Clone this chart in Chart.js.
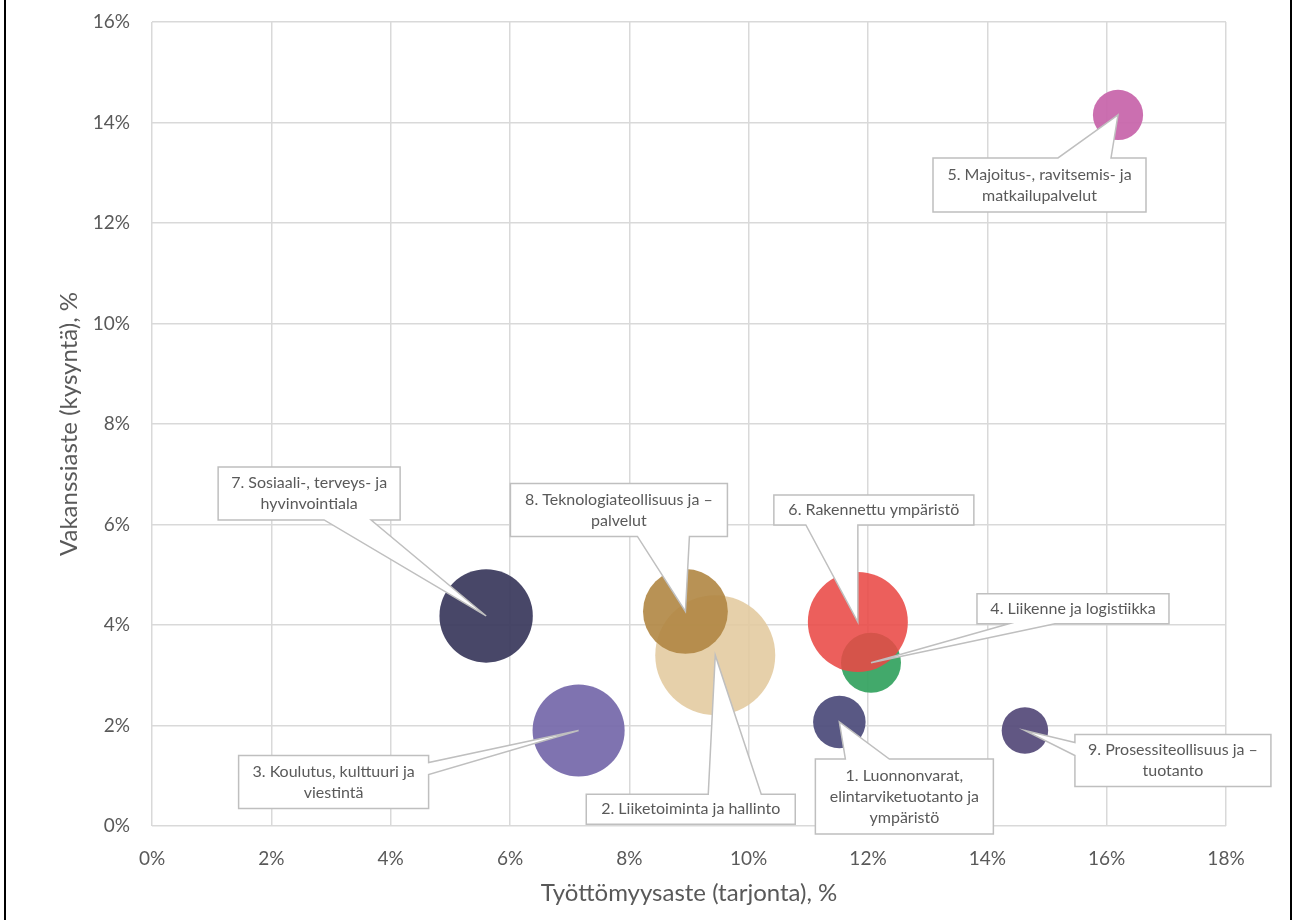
<!DOCTYPE html>
<html>
<head>
<meta charset="utf-8">
<script src="https://cdn.jsdelivr.net/npm/chart.js@4.4.1/dist/chart.umd.min.js"></script>
<style>
  html, body { margin: 0; padding: 0; background: #fff; }
  #wrap { position: relative; width: 1293px; height: 920px; }
  #frame { position: absolute; left: 4px; top: 0; width: 1284px; height: 920px;
           border-left: 2px solid #000; border-right: 2px solid #000; pointer-events: none; }
</style>
</head>
<body>
<div id="wrap">
  <canvas id="bubble" width="1293" height="920"></canvas>
  <div id="frame"></div>
</div>
<script>
// Toimialat, työttömyysaste (x), vakanssiaste (y), kuplan koko
const labels = [
  ['1. Luonnonvarat,', 'elintarviketuotanto ja', 'ympäristö'],
  ['2. Liiketoiminta ja hallinto'],
  ['3. Koulutus, kulttuuri ja', 'viestintä'],
  ['4. Liikenne ja logistiikka'],
  ['5. Majoitus-, ravitsemis- ja', 'matkailupalvelut'],
  ['6. Rakennettu ympäristö'],
  ['7. Sosiaali-, terveys- ja', 'hyvinvointiala'],
  ['8. Teknologiateollisuus ja –', 'palvelut'],
  ['9. Prosessiteollisuus ja –', 'tuotanto']
];
const unemployment = [11.52, 9.44, 7.15, 12.05, 16.19, 11.83, 5.60, 8.94, 14.63];
const vacancy = [2.07, 3.40, 1.90, 3.25, 14.15, 4.06, 4.18, 4.27, 1.90];
const bubbleSize = [6.9, 36, 21.2, 9, 6.3, 25, 21.8, 18, 5.4];
const xTicks = [0, 2, 4, 6, 8, 10, 12, 14, 16, 18];
const yTicks = [0, 2, 4, 6, 8, 10, 12, 14, 16];

const colors = [
  'rgba(80,79,125,0.95)', 'rgba(226,202,158,0.88)', 'rgba(120,108,172,0.95)',
  'rgba(52,163,96,0.93)', 'rgba(199,100,170,0.93)', 'rgba(233,73,69,0.88)',
  'rgba(62,61,96,0.95)', 'rgba(176,134,66,0.9)', 'rgba(88,78,124,0.95)'
];

// callout box placement relative to bubble centre (px): box offset, size, wedge side and base
const callouts = [
  { dx: -24,  dy: 37,   w: 178, h: 75, side: 'top',    b0: 30,  b1: 74 },
  { dx: -129, dy: 139,  w: 209, h: 30, side: 'top',    b0: 122, b1: 175 },
  { dx: -340, dy: 25,   w: 190, h: 53, side: 'right',  b0: 7,   b1: 19 },
  { dx: 106,  dy: -69,  w: 192, h: 30, side: 'bottom', b0: 32,  b1: 78 },
  { dx: -185, dy: 43,   w: 213, h: 54, side: 'top',    b0: 125, b1: 178 },
  { dx: -84,  dy: -127, w: 200, h: 30, side: 'bottom', b0: 32,  b1: 84 },
  { dx: -268, dy: -149, w: 182, h: 53, side: 'bottom', b0: 106, b1: 153 },
  { dx: -175, dy: -128, w: 217, h: 53, side: 'bottom', b0: 127, b1: 179 },
  { dx: 50,   dy: 4,    w: 196, h: 52, side: 'left',   b0: 8,   b1: 21 }
];

const FONT = 'Lato, "Open Sans", sans-serif';
const TXT = '#595959';

const calloutPlugin = {
  id: 'callouts',
  afterDatasetsDraw(chart) {
    const ctx = chart.ctx;
    const xs = chart.scales.x, ys = chart.scales.y;
    ctx.save();
    callouts.forEach((c, i) => {
      const tx = xs.getPixelForValue(unemployment[i]);
      const ty = ys.getPixelForValue(vacancy[i]);
      const L = tx + c.dx, T = ty + c.dy, R = L + c.w, B = T + c.h;
      ctx.beginPath();
      ctx.moveTo(L, T);
      if (c.side === 'top') {
        ctx.lineTo(L + c.b0, T); ctx.lineTo(tx, ty); ctx.lineTo(L + c.b1, T);
      }
      ctx.lineTo(R, T);
      if (c.side === 'right') {
        ctx.lineTo(R, T + c.b0); ctx.lineTo(tx, ty); ctx.lineTo(R, T + c.b1);
      }
      ctx.lineTo(R, B);
      if (c.side === 'bottom') {
        ctx.lineTo(L + c.b1, B); ctx.lineTo(tx, ty); ctx.lineTo(L + c.b0, B);
      }
      ctx.lineTo(L, B);
      if (c.side === 'left') {
        ctx.lineTo(L, T + c.b1); ctx.lineTo(tx, ty); ctx.lineTo(L, T + c.b0);
      }
      ctx.closePath();
      ctx.fillStyle = '#fff';
      ctx.fill();
      ctx.lineWidth = 1.5;
      ctx.strokeStyle = '#bfbfbf';
      ctx.stroke();

      const lines = labels[i];
      const lh = 21;
      ctx.fillStyle = TXT;
      ctx.font = '16px ' + FONT;
      ctx.textAlign = 'center';
      ctx.textBaseline = 'middle';
      const cy = T + c.h / 2 - (lines.length - 1) * lh / 2;
      lines.forEach((s, k) => ctx.fillText(s, L + c.w / 2, cy + k * lh));
    });
    ctx.restore();
  }
};

const points = unemployment.map((x, i) => ({ x: x, y: vacancy[i], r: 10 * Math.sqrt(bubbleSize[i]) }));

new Chart(document.getElementById('bubble').getContext('2d'), {
  type: 'bubble',
  data: {
    datasets: [{
      data: points,
      backgroundColor: colors,
      borderWidth: 0,
      hoverRadius: 0,
      clip: false
    }]
  },
  options: {
    responsive: false,
    animation: false,
    layout: { autoPadding: false, padding: { left: 0, top: 22, right: 67, bottom: 0 } },
    plugins: { legend: { display: false }, tooltip: { enabled: false } },
    scales: {
      x: {
        type: 'linear', min: 0, max: 18,
        afterBuildTicks: s => { s.ticks = xTicks.map(v => ({ value: v })); },
        afterFit: s => { s.height = 94; s.paddingLeft = 0; s.paddingRight = 0; },
        grid: { color: '#d9d9d9', lineWidth: 1.5, drawTicks: false },
        border: { display: false },
        ticks: { padding: 21, color: TXT, font: { family: FONT, size: 19 }, callback: v => v + '%' },
        title: { display: true, text: 'Työttömyysaste (tarjonta), %', color: TXT,
                 font: { family: FONT, size: 24 }, padding: { bottom: 12 } }
      },
      y: {
        type: 'linear', min: 0, max: 16,
        afterBuildTicks: s => { s.ticks = yTicks.map(v => ({ value: v })); },
        afterFit: s => { s.width = 152; s.paddingTop = 0; s.paddingBottom = 0; },
        grid: { color: '#d9d9d9', lineWidth: 1.5, drawTicks: false },
        border: { display: false },
        ticks: { padding: 22, color: TXT, font: { family: FONT, size: 19 }, callback: v => v + '%' },
        title: { display: true, text: 'Vakanssiaste (kysyntä), %', color: TXT,
                 font: { family: FONT, size: 24 }, padding: { top: 55 } }
      }
    }
  },
  plugins: [calloutPlugin]
});
</script>
</body>
</html>
